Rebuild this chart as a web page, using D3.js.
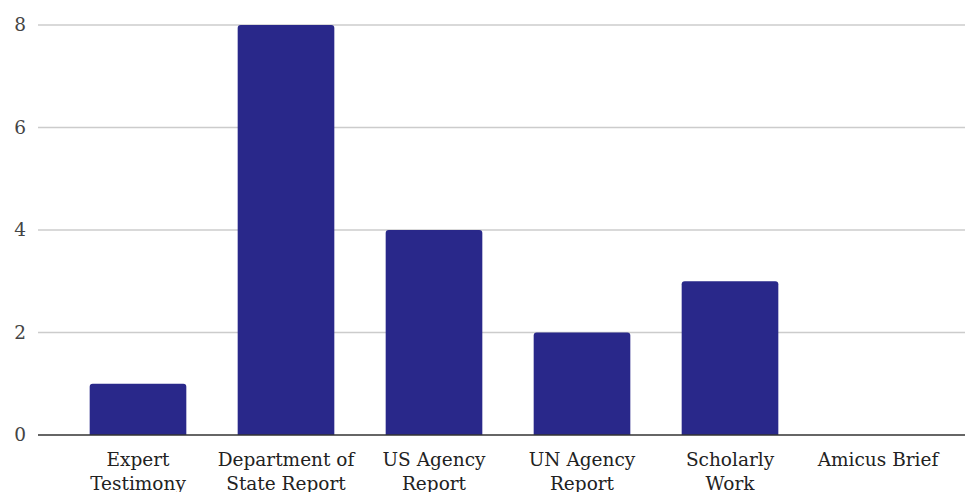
<!DOCTYPE html>
<html>
<head>
<meta charset="utf-8">
<script src="https://cdn.jsdelivr.net/npm/d3@7"></script>
<style>
  html, body { margin: 0; padding: 0; background: #fff; }
  svg { display: block; }
</style>
</head>
<body>
<svg id="chart" width="965" height="492"></svg>
<script>
const categories = [
  ["Expert", "Testimony"],
  ["Department of", "State Report"],
  ["US Agency", "Report"],
  ["UN Agency", "Report"],
  ["Scholarly", "Work"],
  ["Amicus Brief"]
];
const values = [1, 8, 4, 2, 3, 0];
const yTicks = [0, 2, 4, 6, 8];

const W = 965, H = 492;
const svg = d3.select("#chart");
const fontFamily = "'DejaVu Serif', serif";

const keys = categories.map(c => c.join(" "));
const x = d3.scaleBand().domain(keys).range([64, 952])
  .paddingInner(0.347).paddingOuter(0.1735);
const y = d3.scaleLinear().domain([0, 8]).range([435, 25]);

// grid lines
svg.append("g").selectAll("line").data(yTicks.filter(d => d !== 0)).join("line")
  .attr("x1", 38).attr("x2", W)
  .attr("y1", d => y(d)).attr("y2", d => y(d))
  .attr("stroke", "#cccccc").attr("stroke-width", 1.3);

// y-axis labels
svg.append("g").selectAll("text").data(yTicks).join("text")
  .attr("x", 26).attr("y", d => y(d)).attr("dy", "0.35em")
  .attr("text-anchor", "end")
  .attr("font-family", fontFamily).attr("font-size", 18.5)
  .attr("fill", "#444")
  .text(d => d);

// bars with rounded top corners
const r = 3;
svg.append("g").selectAll("path").data(values.map((v, i) => ({k: keys[i], v}))).join("path")
  .filter(d => d.v > 0)
  .attr("d", d => {
    const x0 = x(d.k), x1 = x0 + x.bandwidth(), y0 = y(0), y1 = y(d.v);
    return `M${x0},${y0}V${y1 + r}Q${x0},${y1} ${x0 + r},${y1}H${x1 - r}Q${x1},${y1} ${x1},${y1 + r}V${y0}Z`;
  })
  .attr("fill", "#29288a");

// baseline
svg.append("line")
  .attr("x1", 38).attr("x2", W)
  .attr("y1", y(0)).attr("y2", y(0))
  .attr("stroke", "#333").attr("stroke-width", 1.5);

// category labels
const lbl = svg.append("g").selectAll("text").data(categories).join("text")
  .attr("x", (d, i) => x(keys[i]) + x.bandwidth() / 2)
  .attr("y", 466)
  .attr("text-anchor", "middle")
  .attr("font-family", fontFamily).attr("font-size", 18.5)
  .attr("fill", "#222");
lbl.selectAll("tspan").data(d => d).join("tspan")
  .attr("x", function() { return this.parentNode.getAttribute("x"); })
  .attr("dy", (d, i) => i === 0 ? 0 : 24)
  .text(d => d);
</script>
</body>
</html>
